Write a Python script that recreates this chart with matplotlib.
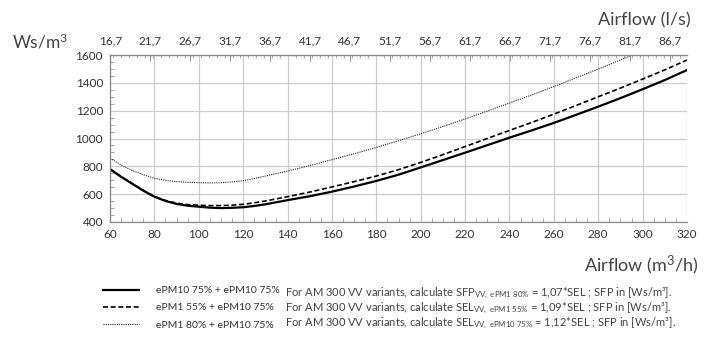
import matplotlib
matplotlib.use("Agg")
import matplotlib.pyplot as plt
from matplotlib.ticker import MultipleLocator, FixedLocator

plt.rcParams['font.family'] = ['Lato', 'DejaVu Sans']
plt.rcParams['mathtext.fontset'] = 'custom'
plt.rcParams['mathtext.rm'] = 'Lato'
plt.rcParams['mathtext.it'] = 'Lato'

# curves (m3/h -> Ws/m3)
airflow = [60, 65, 70, 75, 80, 85, 90, 95, 100, 105, 110, 115, 120, 125, 130, 140, 150, 160, 170, 180,
           190, 200, 210, 220, 230, 240, 250, 260, 270, 280, 290, 300, 310, 320]
sfp_epm10 = [780, 725, 675, 625, 582, 551, 530, 517, 510, 503, 500, 502, 506, 515, 527, 557, 585, 618, 655, 695,
             740, 792, 845, 898, 952, 1006, 1058, 1112, 1170, 1229, 1290, 1354, 1420, 1492]
sfp_epm1_55 = [780, 726, 677, 628, 584, 555, 535, 525, 520, 518, 518, 521, 527, 538, 551, 582, 615, 652, 690, 730,
               776, 828, 884, 942, 1000, 1058, 1115, 1175, 1237, 1300, 1362, 1427, 1493, 1564]
sfp_epm1_80 = [858, 810, 770, 740, 714, 700, 690, 685, 683, 681, 682, 688, 697, 712, 730, 766, 805, 848, 890, 936,
               984, 1034, 1086, 1140, 1197, 1255, 1313, 1373, 1436, 1499, 1565, 1630, 1695, 1760]

labels = ['ePM10 75% + ePM10 75%', 'ePM1 55% + ePM10 75%', 'ePM1 80% + ePM10 75%']
notes = [r'For AM 300 VV variants, calculate SFP$_{\mathrm{VV,\ ePM1\ 80\%}}$ = 1,07*SEL ; SFP in [Ws/m³].',
         r'For AM 300 VV variants, calculate SEL$_{\mathrm{VV,\ ePM1\ 55\%}}$ = 1,09*SEL ; SFP in [Ws/m³].',
         r'For AM 300 VV variants, calculate SEL$_{\mathrm{VV,\ ePM10\ 75\%}}$ = 1,12*SEL ; SFP in [Ws/m³].']

ls_top = [16.7 + 5 * i for i in range(15)]

txt = '#333333'
W, H = 711, 338
fig = plt.figure(figsize=(W / 100, H / 100), dpi=100)
ax = fig.add_axes([110 / W, 1 - 222 / H, (687 - 110) / W, (222 - 55) / H])

l1, = ax.plot(airflow, sfp_epm10, color='black', lw=1.6, linestyle='solid')
l2, = ax.plot(airflow, sfp_epm1_55, color='black', lw=1.2, linestyle=(0, (3, 1.6)))
l3, = ax.plot(airflow, sfp_epm1_80, color='#222222', lw=0.8, linestyle=(0, (1, 1)))

ax.set_xlim(60, 320)
ax.set_ylim(400, 1600)
ax.xaxis.set_major_locator(MultipleLocator(20))
ax.xaxis.set_minor_locator(MultipleLocator(5))
ax.yaxis.set_major_locator(MultipleLocator(200))
ax.yaxis.set_minor_locator(MultipleLocator(50))
ax.grid(True, which='major', color='#cccccc', lw=0.9)
ax.set_axisbelow(True)
for s in ax.spines.values():
    s.set_color('#888888')
    s.set_linewidth(0.9)
ax.spines['right'].set_visible(False)
ax.tick_params(which='major', length=0, labelsize=8.5, colors=txt, pad=5)
ax.tick_params(which='minor', direction='in', length=3, color='#999999')

top = ax.secondary_xaxis('top', functions=(lambda x: x / 3.6, lambda x: x * 3.6))
top.xaxis.set_major_locator(FixedLocator(ls_top))
top.xaxis.set_minor_locator(MultipleLocator(1))
top.set_xticklabels([('%.1f' % v).replace('.', ',') for v in ls_top])
top.tick_params(which='major', direction='in', length=4, color='#999999', labelsize=8.5, labelcolor=txt, pad=6)
top.tick_params(which='minor', direction='in', length=2, color='#999999')
top.spines['top'].set_color('#888888')

fig.text(12 / W, 1 - 42 / H, 'Ws/m$^3$', fontsize=12.5, color='#444444', va='center', ha='left')
fig.text(691 / W, 1 - 20 / H, 'Airflow (l/s)', fontsize=13, color='#444444', va='center', ha='right')
fig.text(698 / W, 1 - 265 / H, 'Airflow (m$^3$/h)', fontsize=13, color='#444444', va='center', ha='right')

fig.legend([l1, l2, l3], labels, loc='upper left', bbox_to_anchor=(103 / W, 1 - 286 / H),
           frameon=False, fontsize=7.5, handlelength=3.5, handletextpad=1.6, labelspacing=0.75,
           labelcolor=txt, borderaxespad=0, borderpad=0)

for i, n in enumerate(notes):
    fig.text(285 / W, 1 - (293 + 15 * i) / H, n, fontsize=8, color='#444444', va='center', ha='left')

fig.savefig('out.png', dpi=100)
